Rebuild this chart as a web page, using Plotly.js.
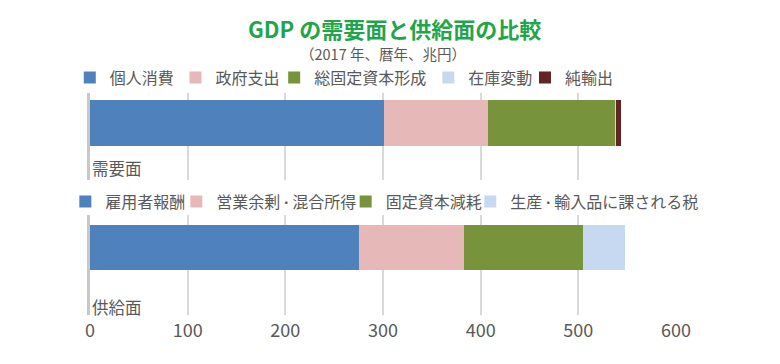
<!DOCTYPE html>
<html>
<head>
<meta charset="utf-8">
<script src="https://cdn.plot.ly/plotly-3.0.1.min.js"></script>
<style>html,body{margin:0;padding:0;background:#fff;}#chart{width:780px;height:364px;}</style>
</head>
<body>
<div id="chart"></div>
<script>
// ---- data ----
var panelLabels = ['需要面', '供給面'];
var demandItems = ['個人消費', '政府支出', '総固定資本形成', '在庫変動', '純輸出'];
var demandValues = [301, 107, 130, 1, 5];
var supplyItems = ['雇用者報酬', '営業余剰・混合所得', '固定資本減耗', '生産・輸入品に課される税'];
var supplyValues = [275.5, 107, 122.3, 43];
var xTicks = [0, 100, 200, 300, 400, 500, 600];

// ---- style ----
var demandColors = ['#4F81BD', '#E6B9B8', '#77933C', '#C6D9F1', '#632523'];
var supplyColors = ['#4F81BD', '#E6B9B8', '#77933C', '#C6D9F1'];
// legend entry positions (paper x), one legend per entry
var demandLegendX = [-0.0345, 0.1459, 0.3143, 0.5773, 0.7423];
var supplyLegendX = [-0.0421, 0.1473, 0.4363, 0.6490];

var FONT = '"Noto Sans CJK JP", "Noto Sans", sans-serif';
var GRAY = '#595959';

// narrower middle dot, as in the reference typeface
function legendLabel(s) {
  return s.replace(/・/g, '<span style="font-size:12px">・</span>');
}

var traces = [];
var legendBase = {
  orientation: 'h', xanchor: 'left', yanchor: 'middle',
  font: {family: FONT, size: 16, color: GRAY},
  bgcolor: 'rgba(0,0,0,0)', itemwidth: 30, traceorder: 'normal',
  itemclick: false, itemdoubleclick: false
};
var layout = {
  width: 780, height: 364,
  margin: {l: 90, r: 104, t: 93, b: 49},
  paper_bgcolor: '#ffffff', plot_bgcolor: '#ffffff',
  barmode: 'stack',
  showlegend: true,
  font: {family: FONT, color: GRAY},
  title: {
    text: '<b>GDP の需要面と供給面の比較</b>',
    font: {family: FONT, size: 22, color: '#1FA64A'},
    x: 0.506, xanchor: 'center', y: 0.918, yanchor: 'middle'
  },
  xaxis: {
    range: [0, 600], tickvals: xTicks, ticktext: xTicks.map(String),
    showgrid: true, gridcolor: '#D9D9D9', gridwidth: 2,
    zeroline: false, showline: false, ticks: '',
    tickfont: {family: FONT, size: 18, color: GRAY},
    ticklabelstandoff: 3,
    anchor: 'y', fixedrange: true
  },
  yaxis: {
    domain: [0, 0.45], range: [-1.5, 0.722], type: 'category',
    showticklabels: false, showgrid: false, zeroline: false,
    showline: true, linecolor: '#C8C8C8', linewidth: 3, ticks: '',
    fixedrange: true
  },
  yaxis2: {
    domain: [0.608, 1], range: [-1.239, 0.652], type: 'category',
    showticklabels: false, showgrid: false, zeroline: false,
    showline: true, linecolor: '#C8C8C8', linewidth: 3, ticks: '',
    anchor: 'x', fixedrange: true
  },
  annotations: [
    {text: '（2017 年、暦年、兆円）', xref: 'paper', yref: 'paper',
     x: 0.5, y: 1.18, xanchor: 'center', yanchor: 'middle', showarrow: false,
     font: {family: FONT, size: 14.5, color: GRAY}},
    {text: panelLabels[0], xref: 'x', yref: 'paper', x: 0, y: (315 - 168) / 222,
     xanchor: 'left', yanchor: 'middle', showarrow: false,
     font: {family: FONT, size: 16.5, color: GRAY}},
    {text: panelLabels[1], xref: 'x', yref: 'paper', x: 0, y: (315 - 307) / 222,
     xanchor: 'left', yanchor: 'middle', showarrow: false,
     font: {family: FONT, size: 16.5, color: GRAY}}
  ]
};

var legendCount = 0;
function legendName() {
  legendCount += 1;
  return legendCount === 1 ? 'legend' : 'legend' + legendCount;
}

demandItems.forEach(function (name, i) {
  var lg = legendName();
  layout[lg] = Object.assign({}, legendBase, {x: demandLegendX[i], y: (315 - 77.5) / 222});
  traces.push({
    type: 'bar', orientation: 'h', name: legendLabel(name),
    x: [demandValues[i]], y: [panelLabels[0]],
    xaxis: 'x', yaxis: 'y2', legend: lg,
    width: 1, marker: {color: demandColors[i], line: {width: 0}},
    hoverinfo: 'name+x'
  });
});
supplyItems.forEach(function (name, i) {
  var lg = legendName();
  layout[lg] = Object.assign({}, legendBase, {x: supplyLegendX[i], y: (315 - 201.5) / 222});
  traces.push({
    type: 'bar', orientation: 'h', name: legendLabel(name),
    x: [supplyValues[i]], y: [panelLabels[1]],
    xaxis: 'x', yaxis: 'y', legend: lg,
    width: 1, marker: {color: supplyColors[i], line: {width: 0}},
    hoverinfo: 'name+x'
  });
});

Plotly.newPlot('chart', traces, layout, {displayModeBar: false, staticPlot: true});
</script>
</body>
</html>
